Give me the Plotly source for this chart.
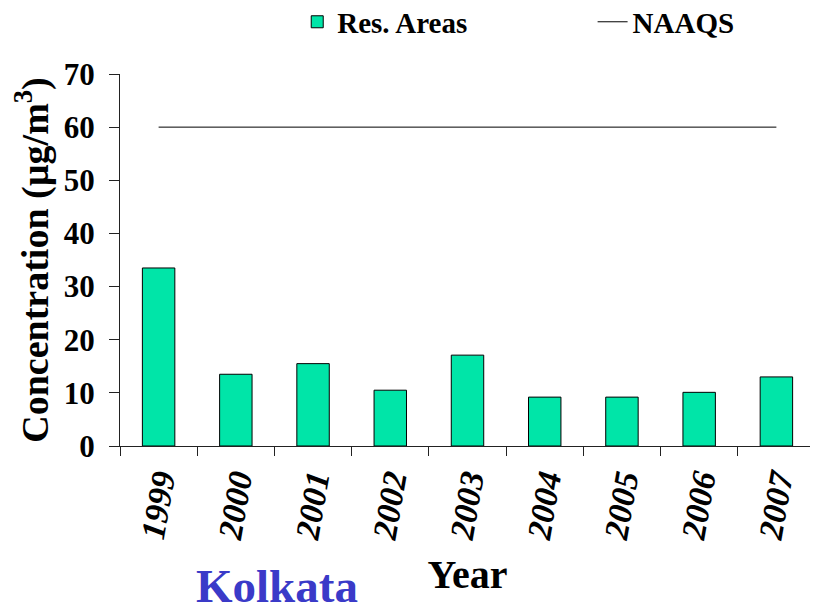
import plotly.graph_objects as go

years = ["1999", "2000", "2001", "2002", "2003", "2004", "2005", "2006", "2007"]
res_areas = [33.5, 13.5, 15.5, 10.5, 17.1, 9.2, 9.2, 10.1, 13.0]
naaqs = [60, 60, 60, 60, 60, 60, 60, 60, 60]

FONT = "Liberation Serif"

fig = go.Figure()
fig.add_trace(go.Bar(
    x=years, y=res_areas, name="Res. Areas",
    marker=dict(color="#00E5A8", line=dict(color="black", width=1)),
    width=0.42, legend="legend",
))
fig.add_trace(go.Scatter(
    x=years, y=naaqs, name="NAAQS", mode="lines",
    line=dict(color="black", width=1), legend="legend2",
))

legfont = dict(family=FONT, size=29, weight="bold", color="black")

fig.update_layout(
    width=810, height=601,
    margin=dict(l=112, r=3, t=66, b=163, autoexpand=False),
    plot_bgcolor="white", paper_bgcolor="white",
    font=dict(family=FONT, color="black"),
    showlegend=True,
    legend=dict(
        x=0.255, y=1.14, xanchor="left", yanchor="middle",
        font=legfont, bgcolor="rgba(0,0,0,0)",
    ),
    legend2=dict(
        x=0.68, y=1.14, xanchor="left", yanchor="middle",
        font=legfont, bgcolor="rgba(0,0,0,0)",
    ),
    xaxis=dict(
        type="category", range=[-0.5, 8.5], automargin=False,
        showline=True, linecolor="#222", linewidth=1,
        ticks="outside", tickson="boundaries", ticklen=9, tickcolor="#222",
        tickangle=-80,
        tickfont=dict(family=FONT, size=34, weight="bold", style="italic"),
        title=dict(text="Year", font=dict(family=FONT, size=40, weight="bold"), standoff=18),
        showgrid=False,
    ),
    yaxis=dict(
        range=[0, 70], dtick=10, automargin=False,
        showline=True, linecolor="#222", linewidth=1,
        ticks="outside", ticklen=10, tickcolor="#222",
        ticklabelstandoff=8,
        tickfont=dict(family=FONT, size=31, weight="bold"),
        title=dict(text="Concentration (µg/m<sup>3</sup>)", font=dict(family=FONT, size=38, weight="bold"), standoff=4),
        showgrid=False, zeroline=False,
    ),
    annotations=[dict(
        text="Kolkata", xref="paper", yref="paper", x=0.106, y=-0.376,
        xanchor="left", yanchor="middle", showarrow=False,
        font=dict(family=FONT, size=47, weight="bold", color="#3a3ac8"),
    )],
)

fig.write_html("out.html")
